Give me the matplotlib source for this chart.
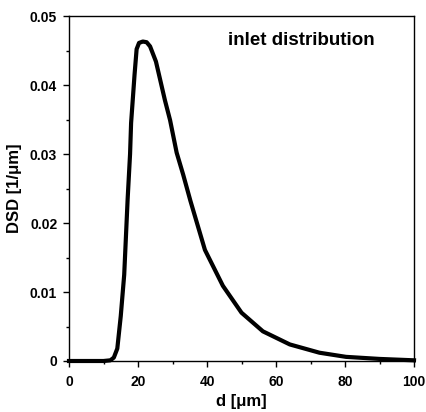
import numpy as np
import matplotlib
matplotlib.use("Agg")
import matplotlib.pyplot as plt
from matplotlib.ticker import MultipleLocator, FixedFormatter, FixedLocator

plt.rcParams['font.family'] = ['Liberation Sans', 'DejaVu Sans']
plt.rcParams['font.weight'] = 'bold'

# ------------ Data --------------------------------------
d_um = [0, 10, 12, 13, 14, 15, 16, 16.5, 17, 17.7, 18, 19, 19.6, 20.3, 21.4,
        22.5, 23.5, 25.2, 27.8, 29.3, 31.2, 33.1, 35.2, 39.4, 41.8, 44.6,
        50, 56.2, 64, 72.6, 80.3, 90, 100]
dsd = [0, 0, 0.0001, 0.0005, 0.0018, 0.0065, 0.0125, 0.018, 0.0235, 0.030,
       0.0345, 0.0415, 0.0452, 0.0461, 0.0463, 0.0462, 0.0456, 0.0434,
       0.0378, 0.0349, 0.0302, 0.0270, 0.0232, 0.0161, 0.0137, 0.0109,
       0.0070, 0.0043, 0.0024, 0.0012, 0.0006, 0.0003, 0.0001]

x_ticks = [0, 20, 40, 60, 80, 100]
y_ticks = [0, 0.01, 0.02, 0.03, 0.04, 0.05]
y_labels = ['0', '0.01', '0.02', '0.03', '0.04', '0.05']

# ------------ Plot ---------------
fig = plt.figure(figsize=(4.26, 4.12), dpi=100)
ax = fig.add_axes([69/426, 1-361/412, 345/426, 345/412])

ax.plot(d_um, dsd, color='black', lw=3, solid_joinstyle='round', clip_on=False, zorder=3)

ax.set_xlim(0, 100)
ax.set_ylim(0, 0.05)
ax.xaxis.set_major_locator(FixedLocator(x_ticks))
ax.xaxis.set_minor_locator(MultipleLocator(10))
ax.yaxis.set_major_locator(FixedLocator(y_ticks))
ax.yaxis.set_major_formatter(FixedFormatter(y_labels))
ax.yaxis.set_minor_locator(MultipleLocator(0.005))
ax.tick_params(which='major', direction='out', length=4, width=1, labelsize=10)
ax.tick_params(axis='x', which='major', pad=6)
ax.tick_params(axis='y', which='major', pad=4.5)
ax.tick_params(which='minor', direction='out', length=2.5, width=1)
ax.tick_params(top=False, right=False, which='both')
for s in ax.spines.values():
    s.set_linewidth(1)

ax.set_xlabel('d [μm]', fontsize=12, fontweight='bold', labelpad=4)
ax.set_ylabel('DSD [1/μm]', fontsize=12, fontweight='bold', labelpad=6)

ax.text(0.461, 0.916, 'inlet distribution', transform=ax.transAxes,
        fontsize=13.5, fontweight='bold', va='baseline', ha='left')

fig.savefig('out.png', dpi=100)
